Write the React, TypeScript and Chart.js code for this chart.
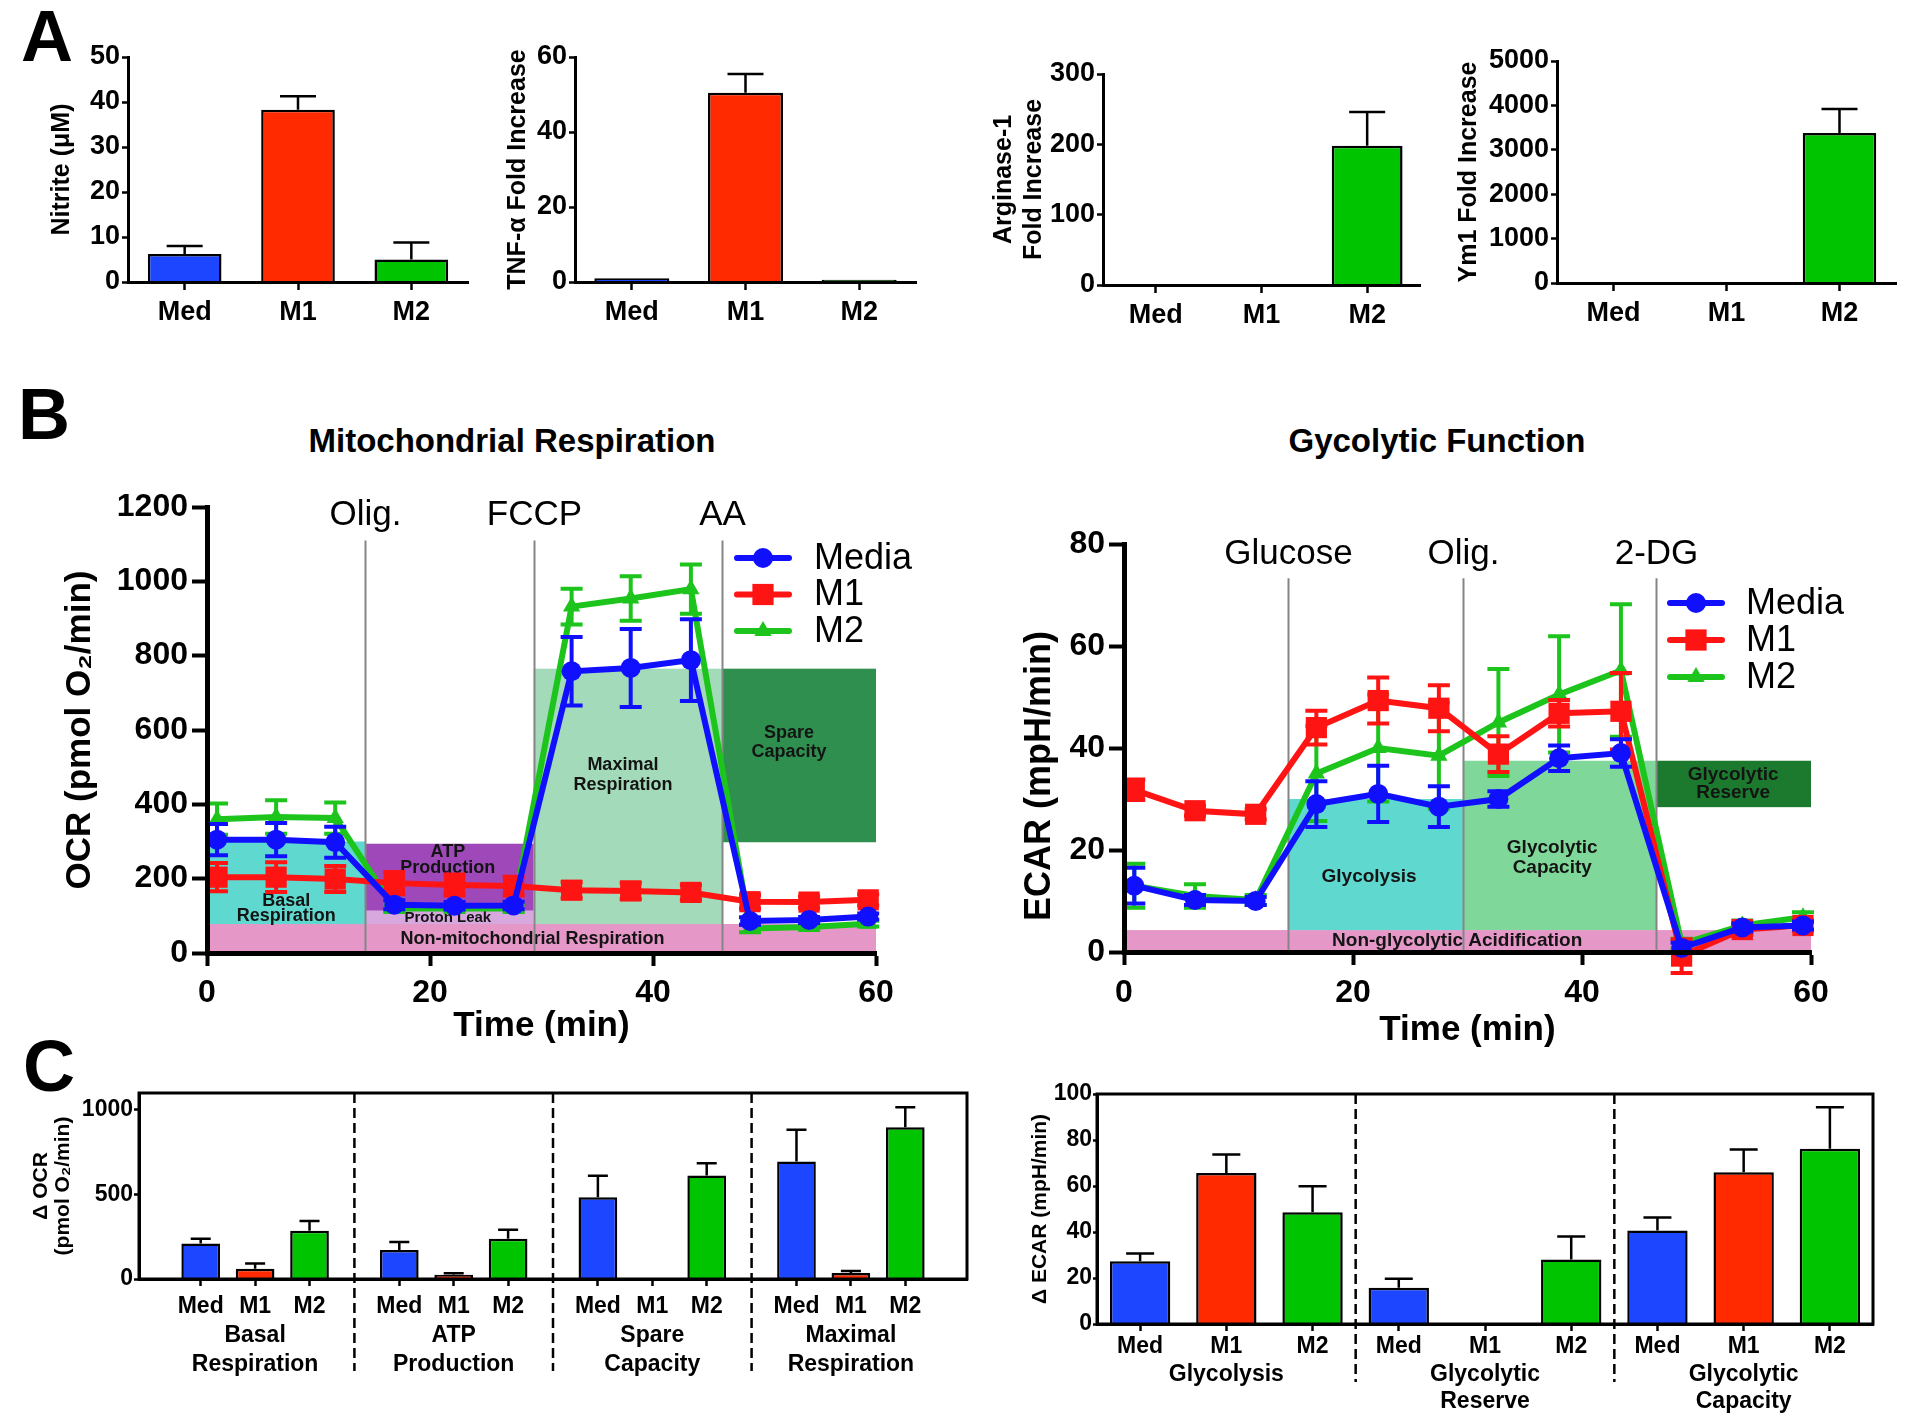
import React, { useEffect, useRef } from "react";
import { Chart, registerables } from "chart.js";

Chart.register(...registerables);

const FONT = "'Liberation Sans', Arial, Helvetica, sans-serif";
Chart.defaults.font.family = FONT;
Chart.defaults.color = "#000";

// ================= Panel A data =================
const groupNames = ["Med", "M1", "M2"];
const nitriteMeans = [6.2, 38.3, 5.0];
const nitriteSEM = [1.8, 3.0, 3.8];
const tnfMeans = [1.0, 50.5, 0.6];
const tnfSEM = [0, 5.0, 0];
const arginaseMeans = [1.5, 1.0, 198];
const arginaseSEM = [0, 0, 48];
const ym1Means = [8, 5, 3380];
const ym1SEM = [0, 0, 540];

// ================= Panel B data =================
const seriesNames = ["Media", "M1", "M2"];
const timeMin = [0.9, 6.2, 11.5, 16.8, 22.2, 27.5, 32.7, 38.0, 43.4, 48.7, 54.0, 59.3];

const ocrMedia = [305, 305, 298, 130, 127, 128, 758, 767, 788, 86, 89, 98];
const ocrMediaSEM = [42, 45, 42, 12, 10, 10, 92, 105, 110, 10, 8, 8];
const ocrM1 = [204, 204, 199, 188, 183, 180, 169, 167, 163, 138, 137, 143];
const ocrM1SEM = [38, 40, 35, 30, 28, 25, 22, 22, 20, 18, 15, 15];
const ocrM2 = [360, 366, 363, 120, 120, 120, 932, 954, 979, 66, 70, 79];
const ocrM2SEM = [42, 45, 42, 10, 10, 10, 48, 60, 66, 10, 8, 8];

const ocrInjections = ["Olig.", "FCCP", "AA"];
const ocrInjectionTimes = [14.2, 29.3, 46.2];

const ocrRegionNames = ["Non-mitochondrial Respiration", "Basal Respiration", "Proton Leak", "ATP Production", "Maximal Respiration", "Spare Capacity"];
const ocrRegionStart = [0, 0, 14.2, 14.2, 29.3, 46.2];
const ocrRegionEnd = [60, 14.2, 29.3, 29.3, 46.2, 60];
const ocrRegionLow = [0, 78, 78, 114, 78, 298];
const ocrRegionHigh = [78, 300, 114, 294, 765, 765];

const ecarMedia = [13, 10.2, 10, 29, 31, 28.5, 30, 38, 39, 0.8, 4.8, 5.2];
const ecarMediaSEM = [3.5, 1, 0.8, 4.5, 5.5, 4, 1.5, 2.5, 2.7, 1, 0.8, 0.8];
const ecarM1 = [31.8, 27.7, 27, 44, 49.3, 47.8, 38.8, 46.8, 47.2, -0.8, 4.4, 5.2];
const ecarM1SEM = [2, 1, 1, 3.3, 4.5, 4.5, 3.5, 2.6, 7.5, 3.3, 1, 1];
const ecarM2 = [13, 11, 10.2, 35, 40, 38.5, 45, 50.5, 55.2, 1.6, 5.2, 6.8];
const ecarM2SEM = [4.3, 2.3, 1, 9.3, 10.5, 10.4, 10.5, 11.4, 13, 1, 1, 1];

const ecarInjections = ["Glucose", "Olig.", "2-DG"];
const ecarInjectionTimes = [14.3, 29.6, 46.5];

const ecarRegionNames = ["Non-glycolytic Acidification", "Glycolysis", "Glycolytic Capacity", "Glycolytic Reserve"];
const ecarRegionStart = [0, 14.3, 29.6, 46.5];
const ecarRegionEnd = [60, 29.6, 46.5, 60];
const ecarRegionLow = [0, 4.3, 4.3, 28.4];
const ecarRegionHigh = [4.3, 30, 37.5, 37.5];

// ================= Panel C data =================
const ocrDeltaGroups = [["Basal", "Respiration"], ["ATP", "Production"], ["Spare", "Capacity"], ["Maximal", "Respiration"]];
const ocrDeltaMeans = [210, 60, 285, 172, 25, 238, 484, null, 612, 695, 35, 898];
const ocrDeltaSEM = [28, 32, 58, 47, 9, 53, 126, 0, 73, 187, 12, 118];
const ocrDeltaYTicks = [0, 500, 1000];

const ecarDeltaGroups = [["Glycolysis"], ["Glycolytic", "Reserve"], ["Glycolytic", "Capacity"]];
const ecarDeltaMeans = [27.3, 65.7, 48.6, 15.8, null, 28.0, 40.6, 66.0, 76.2];
const ecarDeltaSEM = [3.4, 8.0, 11.3, 3.9, 0, 10.0, 5.7, 9.9, 18.0];

// ================= styles =================
const barColors = ["#1c46ff", "#ff2a00", "#00c400"];
const lineColors = ["#1010ff", "#ff1414", "#1cc41c"];
const pointStyles = ["circle", "rect", "triangle"];
const pointRadii = [10, 15, 10];
const ocrRegionColors = ["#e597c8", "#5fd9cf", "#d6a8de", "#9e48b9", "#a3dab9", "#2f8f4e"];
const ecarRegionColors = ["#e597c8", "#5fd9cf", "#7fd79a", "#1c7a2e"];

type Rect = { left: number; top: number; width: number; height: number };
type Area = { left: number; top: number; right: number; bottom: number };

function fit(box: Rect, area: Area) {
  return {
    padding: { left: 0, top: area.top - box.top, right: box.left + box.width - area.right, bottom: 0 },
    yWidth: area.left - box.left,
    xHeight: box.top + box.height - area.bottom,
  };
}

function yTitle(text: string | string[], size: number, centerRel: number, lh = 1.2, weight = "bold") {
  return {
    display: true,
    text,
    color: "#000",
    font: { family: FONT, size, weight, lineHeight: lh },
    padding: { top: centerRel - (size * lh) / 2, bottom: 0 },
  };
}

function xTitle(text: string, size: number, centerRelY: number, boxH: number, lh = 1.2) {
  return {
    display: true,
    text,
    color: "#000",
    font: { family: FONT, size, weight: "bold", lineHeight: lh },
    padding: { top: 0, bottom: boxH - centerRelY - (size * lh) / 2 },
  };
}

function axisStyle(tickLength: number, borderWidth: number, tickWidth: number) {
  return {
    grid: { display: true, offset: false, drawOnChartArea: false, drawTicks: true, tickLength, tickWidth, tickColor: "#000", color: "#000" },
    border: { display: true, color: "#000", width: borderWidth, z: 1 },
  };
}

const baseOptions = {
  responsive: false,
  maintainAspectRatio: false,
  animation: false as const,
  devicePixelRatio: 1,
  events: [] as any[],
  plugins: { legend: { display: false }, tooltip: { enabled: false } },
};

// ---------- error bar plugin (global) ----------
const errorBarPlugin = {
  id: "errorBars",
  afterDatasetDraw(chart: any, args: any) {
    const ds: any = chart.data.datasets[args.index];
    const errs: number[] | undefined = ds.errorBars;
    if (!errs) return;
    const meta = args.meta;
    const yScale = chart.scales[meta.yAxisID];
    const ctx = chart.ctx;
    ctx.save();
    ctx.strokeStyle = ds.errorColor || "#000";
    ctx.lineWidth = ds.errorWidth || 2.5;
    const cap = ds.errorCap || 10;
    meta.data.forEach((el: any, i: number) => {
      const e = errs[i];
      const raw = ds.data[i];
      const v = raw !== null && typeof raw === "object" ? raw.y : raw;
      if (!e || v === null || v === undefined) return;
      const yTop = yScale.getPixelForValue(v + e);
      const yBot = ds.errorBoth ? yScale.getPixelForValue(v - e) : el.y;
      ctx.beginPath();
      ctx.moveTo(el.x, yBot);
      ctx.lineTo(el.x, yTop);
      ctx.moveTo(el.x - cap, yTop);
      ctx.lineTo(el.x + cap, yTop);
      if (ds.errorBoth) {
        ctx.moveTo(el.x - cap, yBot);
        ctx.lineTo(el.x + cap, yBot);
      }
      ctx.stroke();
    });
    ctx.restore();
  },
};
Chart.register(errorBarPlugin);

// ---------- decoration plugin ----------
type Decor = {
  regions?: { x0: number; x1: number; y0: number; y1: number; color: string }[];
  texts?: { text: string; x: number; y: number; size: number }[];
  injections?: { label: string; x: number; top: number; labelY: number }[];
  legend?: { x0: number; x1: number; textX: number; y0: number; dy: number; size: number };
  frame?: boolean;
  dashes?: number[];
  dashBottom?: number;
  rotText?: { text: string; x: number; y: number; size: number };
};

function drawMarker(ctx: CanvasRenderingContext2D, style: string, x: number, y: number, r: number) {
  ctx.beginPath();
  if (style === "circle") {
    ctx.arc(x, y, r, 0, Math.PI * 2);
  } else if (style === "rect") {
    const s = r * Math.SQRT1_2;
    ctx.rect(x - s, y - s, 2 * s, 2 * s);
  } else {
    const h = r * 1.5;
    ctx.moveTo(x, y - (2 * h) / 3);
    ctx.lineTo(x + r * 0.866, y + h / 3);
    ctx.lineTo(x - r * 0.866, y + h / 3);
    ctx.closePath();
  }
  ctx.fill();
}

function decorPlugin(d: Decor) {
  return {
    id: "decor",
    beforeDraw(chart: any) {
      const { ctx } = chart;
      const xs = chart.scales.x;
      const ys = chart.scales.y;
      ctx.save();
      (d.regions || []).forEach((r) => {
        const xa = xs.getPixelForValue(r.x0);
        const xb = xs.getPixelForValue(r.x1);
        const ya = ys.getPixelForValue(r.y0);
        const yb = ys.getPixelForValue(r.y1);
        ctx.fillStyle = r.color;
        ctx.fillRect(xa, yb, xb - xa, ya - yb);
      });
      ctx.textAlign = "center";
      ctx.textBaseline = "middle";
      ctx.fillStyle = "#141414";
      (d.texts || []).forEach((t) => {
        ctx.font = `bold ${t.size}px ${FONT}`;
        ctx.fillText(t.text, xs.getPixelForValue(t.x), ys.getPixelForValue(t.y));
      });
      (d.injections || []).forEach((inj) => {
        const px = Math.round(xs.getPixelForValue(inj.x)) + 0.5;
        ctx.strokeStyle = "#858585";
        ctx.lineWidth = 2;
        ctx.beginPath();
        ctx.moveTo(px, ys.getPixelForValue(inj.top));
        ctx.lineTo(px, ys.getPixelForValue(0));
        ctx.stroke();
        ctx.fillStyle = "#000";
        ctx.font = `35px ${FONT}`;
        ctx.fillText(inj.label, px, ys.getPixelForValue(inj.labelY));
      });
      ctx.restore();
    },
    afterDraw(chart: any) {
      const { ctx, chartArea } = chart;
      const xs = chart.scales.x;
      ctx.save();
      if (d.frame) {
        ctx.strokeStyle = "#000";
        ctx.lineWidth = 3;
        ctx.strokeRect(chartArea.left, chartArea.top, chartArea.right - chartArea.left, chartArea.bottom - chartArea.top);
      }
      if (d.dashes) {
        ctx.strokeStyle = "#000";
        ctx.lineWidth = 2.5;
        ctx.setLineDash([10, 5]);
        d.dashes.forEach((v) => {
          const px = xs.getPixelForValue(v);
          ctx.beginPath();
          ctx.moveTo(px, chartArea.top);
          ctx.lineTo(px, d.dashBottom || chartArea.bottom);
          ctx.stroke();
        });
        ctx.setLineDash([]);
      }
      if (d.legend) {
        const L = d.legend;
        chart.data.datasets.forEach((ds: any, i: number) => {
          const y = L.y0 + i * L.dy;
          ctx.strokeStyle = ds.borderColor;
          ctx.fillStyle = ds.borderColor;
          ctx.lineWidth = 6;
          ctx.lineCap = "round";
          ctx.beginPath();
          ctx.moveTo(L.x0, y);
          ctx.lineTo(L.x1, y);
          ctx.stroke();
          drawMarker(ctx, ds.pointStyle, (L.x0 + L.x1) / 2, y, ds.pointRadius);
          ctx.fillStyle = "#000";
          ctx.font = `${L.size}px ${FONT}`;
          ctx.textAlign = "left";
          ctx.textBaseline = "middle";
          ctx.fillText(ds.label, L.textX, y + 1);
        });
      }
      if (d.rotText) {
        const t = d.rotText;
        ctx.translate(t.x, t.y);
        ctx.rotate(-Math.PI / 2);
        ctx.fillStyle = "#000";
        ctx.font = `bold ${t.size}px ${FONT}`;
        ctx.textAlign = "center";
        ctx.textBaseline = "middle";
        ctx.fillText(t.text, 0, 0);
      }
      ctx.restore();
    },
  };
}

// ================= builders =================
function buildBarA(box: Rect, area: Area, means: number[], sem: number[], yMax: number, step: number, title: string | string[], titleCenterX: number, barPct: number) {
  const f = fit(box, area);
  const ax = axisStyle(8, 3, 2.5);
  const ay = axisStyle(6, 3, 2.5);
  return {
    type: "bar",
    data: {
      labels: groupNames,
      datasets: [
        {
          data: means,
          backgroundColor: barColors,
          borderColor: "#000",
          borderWidth: 2.5,
          barPercentage: barPct,
          categoryPercentage: 1,
          errorBars: sem,
          errorCap: 18,
          errorWidth: 2.5,
        },
      ],
    },
    options: {
      ...baseOptions,
      layout: { padding: f.padding },
      scales: {
        x: {
          ...ax,
          offset: true,
          ticks: { font: { family: FONT, size: 27, weight: "bold" }, color: "#000", padding: 6, maxRotation: 0, autoSkip: false },
          afterFit: (s: any) => {
            s.height = f.xHeight;
          },
        },
        y: {
          ...ay,
          min: 0,
          max: yMax,
          ticks: { stepSize: step, font: { family: FONT, size: 27, weight: "bold" }, color: "#000", padding: 2, callback: (v: any) => String(v) },
          title: yTitle(title, 25, titleCenterX - box.left, 1.22),
          afterFit: (s: any) => {
            s.width = f.yWidth;
          },
        },
      },
    },
  };
}

function lineDatasets(series: number[][], errs: number[][]) {
  return series.map((vals, i) => ({
    label: seriesNames[i],
    data: timeMin.map((t, j) => ({ x: t, y: vals[j] })),
    borderColor: lineColors[i],
    backgroundColor: lineColors[i],
    borderWidth: 6,
    pointStyle: pointStyles[i],
    pointRadius: pointRadii[i],
    pointBackgroundColor: lineColors[i],
    pointBorderColor: lineColors[i],
    pointBorderWidth: 0,
    tension: 0,
    clip: false,
    errorBars: errs[i],
    errorBoth: true,
    errorColor: lineColors[i],
    errorWidth: 4,
    errorCap: 11,
  }));
}

function buildLine(box: Rect, area: Area, series: number[][], errs: number[][], yMax: number, yStep: number, decor: Decor, yTitleCfg: any, xTitleCenterY: number, xPad: number) {
  const f = fit(box, area);
  const ax = axisStyle(13, 5, 4);
  const ay = axisStyle(15, 5, 4);
  return {
    type: "line",
    data: { datasets: lineDatasets(series, errs) },
    options: {
      ...baseOptions,
      layout: { padding: f.padding },
      scales: {
        x: {
          ...ax,
          type: "linear",
          min: 0,
          max: 60,
          ticks: { stepSize: 20, font: { family: FONT, size: 32, weight: "bold" }, color: "#000", padding: xPad, maxRotation: 0 },
          title: xTitle("Time (min)", 35, xTitleCenterY - box.top, box.height),
          afterFit: (s: any) => {
            s.height = f.xHeight;
          },
        },
        y: {
          ...ay,
          min: 0,
          max: yMax,
          ticks: { stepSize: yStep, font: { family: FONT, size: 32, weight: "bold" }, color: "#000", padding: 4, callback: (v: any) => String(v) },
          title: yTitleCfg,
          afterFit: (s: any) => {
            s.width = f.yWidth;
          },
        },
      },
    },
    plugins: [decorPlugin(decor)],
  };
}

// ---- Panel B configs ----
const ocrBox: Rect = { left: 20, top: 470, width: 940, height: 590 };
const ocrArea: Area = { left: 207, top: 507, right: 876, bottom: 953 };
const ecarBox: Rect = { left: 960, top: 470, width: 960, height: 590 };
const ecarArea: Area = { left: 1124, top: 544, right: 1811, bottom: 952 };

function ocrConfig() {
  const labelX = [29.2, 7.1, 21.6, 21.6, 37.3, 52.2];
  const labelY = [[38], [139, 100], [94], [272, 229], [506, 452], [592, 541]];
  const splitNames = [[ocrRegionNames[0]], ["Basal", "Respiration"], [ocrRegionNames[2]], ["ATP", "Production"], ["Maximal", "Respiration"], ["Spare", "Capacity"]];
  const texts: { text: string; x: number; y: number; size: number }[] = [];
  splitNames.forEach((lines, i) =>
    lines.forEach((t, k) => texts.push({ text: t, x: labelX[i], y: labelY[i][k], size: i === 2 ? 15 : 18 }))
  );
  const decor: Decor = {
    regions: ocrRegionNames.map((_, i) => ({ x0: ocrRegionStart[i], x1: ocrRegionEnd[i], y0: ocrRegionLow[i], y1: ocrRegionHigh[i], color: ocrRegionColors[i] })),
    texts,
    injections: ocrInjections.map((l, i) => ({ label: l, x: ocrInjectionTimes[i], top: 1110, labelY: 1178 })),
    legend: { x0: 737 - ocrBox.left, x1: 789 - ocrBox.left, textX: 814 - ocrBox.left, y0: 558 - ocrBox.top, dy: 36.5, size: 36 },
  };
  return buildLine(
    ocrBox,
    ocrArea,
    [ocrMedia, ocrM1, ocrM2],
    [ocrMediaSEM, ocrM1SEM, ocrM2SEM],
    1200,
    200,
    decor,
    yTitle("OCR (pmol O\u2082/min)", 35, 80 - ocrBox.left),
    1026,
    8
  );
}

function ecarConfig() {
  const labelX = [29.1, 21.4, 37.4, 53.2];
  const labelY = [[2.25], [14.8], [20.5, 16.5], [34.7, 31.3]];
  const splitNames = [[ecarRegionNames[0]], [ecarRegionNames[1]], ["Glycolytic", "Capacity"], ["Glycolytic", "Reserve"]];
  const texts: { text: string; x: number; y: number; size: number }[] = [];
  splitNames.forEach((lines, i) => lines.forEach((t, k) => texts.push({ text: t, x: labelX[i], y: labelY[i][k], size: 19 })));
  const decor: Decor = {
    regions: ecarRegionNames.map((_, i) => ({ x0: ecarRegionStart[i], x1: ecarRegionEnd[i], y0: ecarRegionLow[i], y1: ecarRegionHigh[i], color: ecarRegionColors[i] })),
    texts,
    injections: ecarInjections.map((l, i) => ({ label: l, x: ecarInjectionTimes[i], top: 73.3, labelY: 78.0 })),
    legend: { x0: 1670 - ecarBox.left, x1: 1722 - ecarBox.left, textX: 1746 - ecarBox.left, y0: 603 - ecarBox.top, dy: 37, size: 36 },
    rotText: { text: "ECAR (mpH/min)", x: 1040 - ecarBox.left, y: 776 - ecarBox.top, size: 36 },
  };
  return buildLine(
    ecarBox,
    ecarArea,
    [ecarMedia, ecarM1, ecarM2],
    [ecarMediaSEM, ecarM1SEM, ecarM2SEM],
    80,
    20,
    decor,
    { display: false },
    1030,
    9
  );
}

// ---- Panel C configs ----
const ocrGroupSpacing = 3.65;
const ocrDeltaX = ocrDeltaMeans.map((_, i) => Math.floor(i / 3) * ocrGroupSpacing + (i % 3));
const ocrDeltaTickLabels = ocrDeltaMeans.map((_, i) => (i % 3 === 1 ? [groupNames[1], ...ocrDeltaGroups[Math.floor(i / 3)]] : [groupNames[i % 3]]));
const ecarDeltaTickLabels = ecarDeltaMeans.map((_, i) => (i % 3 === 1 ? [groupNames[1], ...ecarDeltaGroups[Math.floor(i / 3)]] : [groupNames[i % 3]]));

const ocrDeltaBox: Rect = { left: 20, top: 1075, width: 960, height: 340 };
const ocrDeltaArea: Area = { left: 139, top: 1093, right: 967, bottom: 1279 };
const ecarDeltaBox: Rect = { left: 980, top: 1075, width: 940, height: 340 };
const ecarDeltaArea: Area = { left: 1097, top: 1094, right: 1873, bottom: 1324 };

function ocrDeltaConfig() {
  const f = fit(ocrDeltaBox, ocrDeltaArea);
  const ax = axisStyle(7, 3, 2.5);
  const ay = axisStyle(5, 3, 2.5);
  const seps = [0, 1, 2].map((g) => g * ocrGroupSpacing + 2 + (ocrGroupSpacing - 2) / 2);
  return {
    type: "bar",
    data: {
      datasets: [
        {
          data: ocrDeltaMeans.map((v, i) => ({ x: ocrDeltaX[i], y: v })),
          backgroundColor: ocrDeltaMeans.map((_, i) => barColors[i % 3]),
          borderColor: "#000",
          borderWidth: 2.5,
          barPercentage: 0.9,
          categoryPercentage: 0.79,
          errorBars: ocrDeltaSEM,
          errorCap: 10,
          errorWidth: 2.5,
        },
      ],
    },
    options: {
      ...baseOptions,
      layout: { padding: f.padding },
      scales: {
        x: {
          ...ax,
          type: "linear",
          min: -0.5,
          max: 3 * ocrGroupSpacing + 2.5,
          afterBuildTicks: (s: any) => {
            s.ticks = ocrDeltaX.map((v) => ({ value: v }));
          },
          ticks: {
            autoSkip: false,
            maxRotation: 0,
            padding: 6,
            font: { family: FONT, size: 23, weight: "bold", lineHeight: 1.27 },
            color: "#000",
            callback: (_v: any, idx: number) => ocrDeltaTickLabels[idx],
          },
          afterFit: (s: any) => {
            s.height = f.xHeight;
          },
        },
        y: {
          ...ay,
          min: 0,
          max: 1100,
          afterBuildTicks: (s: any) => {
            s.ticks = ocrDeltaYTicks.map((v) => ({ value: v }));
          },
          ticks: {
            autoSkip: false,
            font: { family: FONT, size: 23, weight: "bold" },
            color: "#000",
            padding: 1,
            callback: (_v: any, idx: number) => String(ocrDeltaYTicks[idx]),
          },
          title: yTitle(["\u0394 OCR", "(pmol O\u2082/min)"], 21, 41 - ocrDeltaBox.left, 1.05),
          afterFit: (s: any) => {
            s.width = f.yWidth;
          },
        },
      },
    },
    plugins: [decorPlugin({ frame: true, dashes: seps, dashBottom: 1371 - ocrDeltaBox.top })],
  };
}

function ecarDeltaConfig() {
  const f = fit(ecarDeltaBox, ecarDeltaArea);
  const ax = axisStyle(7, 3, 2.5);
  const ay = axisStyle(4, 3, 2.5);
  return {
    type: "bar",
    data: {
      labels: ecarDeltaTickLabels,
      datasets: [
        {
          data: ecarDeltaMeans,
          backgroundColor: ecarDeltaMeans.map((_, i) => barColors[i % 3]),
          borderColor: "#000",
          borderWidth: 2.5,
          barPercentage: 0.7,
          categoryPercentage: 1,
          errorBars: ecarDeltaSEM,
          errorCap: 14,
          errorWidth: 2.5,
        },
      ],
    },
    options: {
      ...baseOptions,
      layout: { padding: f.padding },
      scales: {
        x: {
          ...ax,
          offset: true,
          ticks: {
            autoSkip: false,
            maxRotation: 0,
            padding: 2,
            font: { family: FONT, size: 23, weight: "bold", lineHeight: 1.2 },
            color: "#000",
          },
          afterFit: (s: any) => {
            s.height = f.xHeight;
          },
        },
        y: {
          ...ay,
          min: 0,
          max: 100,
          ticks: { stepSize: 20, font: { family: FONT, size: 23, weight: "bold" }, color: "#000", padding: 1, callback: (v: any) => String(v) },
          title: yTitle("\u0394 ECAR (mpH/min)", 21, 1040 - ecarDeltaBox.left, 1.2),
          afterFit: (s: any) => {
            s.width = f.yWidth;
          },
        },
      },
    },
    plugins: [decorPlugin({ frame: true, dashes: [2.5, 5.5], dashBottom: 1382 - ecarDeltaBox.top })],
  };
}

// ---- Panel A configs ----
const aBoxes: Rect[] = [
  { left: 20, top: 20, width: 470, height: 330 },
  { left: 490, top: 20, width: 450, height: 330 },
  { left: 960, top: 20, width: 480, height: 330 },
  { left: 1440, top: 20, width: 475, height: 330 },
];
const aAreas: Area[] = [
  { left: 128, top: 57, right: 468, bottom: 282 },
  { left: 575, top: 57, right: 916, bottom: 282 },
  { left: 1103, top: 74, right: 1420, bottom: 285 },
  { left: 1557, top: 61, right: 1896, bottom: 283 },
];

const chartDefs: { box: Rect; make: () => any }[] = [
  { box: aBoxes[0], make: () => buildBarA(aBoxes[0], aAreas[0], nitriteMeans, nitriteSEM, 50, 10, "Nitrite (\u03bcM)", 62, 0.65) },
  { box: aBoxes[1], make: () => buildBarA(aBoxes[1], aAreas[1], tnfMeans, tnfSEM, 60, 20, "TNF-\u03b1 Fold Increase", 518, 0.66) },
  { box: aBoxes[2], make: () => buildBarA(aBoxes[2], aAreas[2], arginaseMeans, arginaseSEM, 300, 100, ["Arginase-1", "Fold Increase"], 1004, 0.67) },
  { box: aBoxes[3], make: () => buildBarA(aBoxes[3], aAreas[3], ym1Means, ym1SEM, 5000, 1000, "Ym1 Fold Increase", 1469, 0.65) },
  { box: ocrBox, make: ocrConfig },
  { box: ecarBox, make: ecarConfig },
  { box: ocrDeltaBox, make: ocrDeltaConfig },
  { box: ecarDeltaBox, make: ecarDeltaConfig },
];

function ChartCanvas({ box, make }: { box: Rect; make: () => any }) {
  const ref = useRef<HTMLCanvasElement>(null);
  useEffect(() => {
    if (!ref.current) return;
    const chart = new Chart(ref.current, make());
    return () => chart.destroy();
  }, []);
  return (
    <canvas
      ref={ref}
      width={box.width}
      height={box.height}
      style={{ position: "absolute", left: box.left, top: box.top, width: box.width, height: box.height }}
    />
  );
}

const letterStyle = (left: number, top: number): React.CSSProperties => ({
  position: "absolute",
  left,
  top,
  fontFamily: FONT,
  fontWeight: "bold",
  fontSize: 72,
  lineHeight: "72px",
  color: "#000",
});

const titleStyle = (cx: number, cy: number): React.CSSProperties => ({
  position: "absolute",
  left: cx - 400,
  top: cy - 20,
  width: 800,
  textAlign: "center",
  fontFamily: FONT,
  fontWeight: "bold",
  fontSize: 33,
  lineHeight: "40px",
  color: "#000",
});

export default function App() {
  return (
    <div style={{ position: "absolute", left: 0, top: 0, width: 1920, height: 1424, background: "#fff", overflow: "hidden" }}>
      {chartDefs.map((c, i) => (
        <ChartCanvas key={i} box={c.box} make={c.make} />
      ))}
      <div style={letterStyle(21, 0)}>A</div>
      <div style={letterStyle(18, 378)}>B</div>
      <div style={letterStyle(23, 1030)}>C</div>
      <div style={titleStyle(512, 441)}>Mitochondrial Respiration</div>
      <div style={titleStyle(1437, 441)}>Gycolytic Function</div>
    </div>
  );
}
